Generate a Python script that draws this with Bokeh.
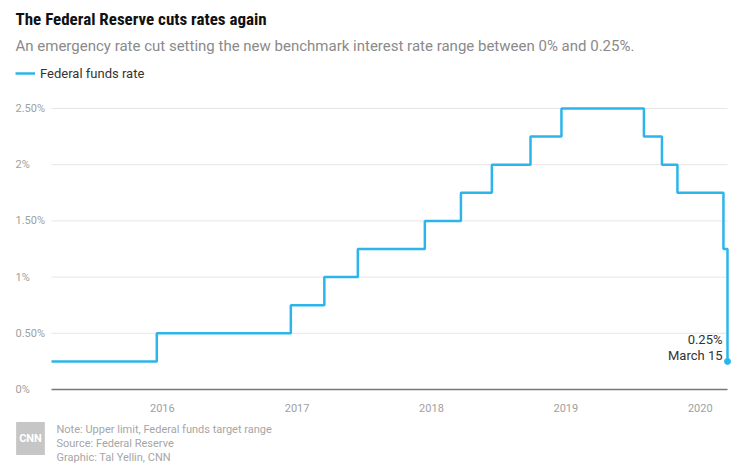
import pandas as pd
from bokeh.plotting import figure
from bokeh.models import (Range1d, Label, LabelSet, ColumnDataSource, Legend, LegendItem)
from bokeh.core.properties import value
from bokeh.embed import file_html
from bokeh.resources import INLINE

# ---- data ----
dates = ["2015-03-06", "2015-12-17", "2016-12-15", "2017-03-16", "2017-06-15",
         "2017-12-14", "2018-03-22", "2018-06-14", "2018-09-27", "2018-12-20",
         "2019-08-01", "2019-09-19", "2019-10-31", "2020-03-04", "2020-03-15"]
rates = [0.25, 0.50, 0.75, 1.00, 1.25, 1.50, 1.75, 2.00, 2.25, 2.50,
         2.25, 2.00, 1.75, 1.25, 0.25]
y_ticks = [0, 0.5, 1, 1.5, 2, 2.5]
y_tick_labels = ["0%", "0.50%", "1%", "1.50%", "2%", "2.50%"]
x_tick_dates = ["2016-01-01", "2017-01-01", "2018-01-01", "2019-01-01", "2020-01-01"]
x_tick_labels = ["2016", "2017", "2018", "2019", "2020"]

title_text = "The Federal Reserve cuts rates again"
subtitle_text = "An emergency rate cut setting the new benchmark interest rate range between 0% and 0.25%."
legend_text = "Federal funds rate"
end_value_text = "0.25%"
end_date_text = "March 15"
footer_lines = ["Note: Upper limit, Federal funds target range",
                "Source: Federal Reserve",
                "Graphic: Tal Yellin, CNN"]

BLUE = "#2cb5ea"
FONT = "Roboto"
COND = "'Roboto Condensed', 'Noto Sans Condensed', 'Open Sans Condensed', 'DejaVu Sans Condensed', Roboto"

W, H = 750, 474
# plot area in page pixels
L, R, T0, B0 = 51, 727, 108, 389   # left, right, y of top tick (2.5), y of 0

x = pd.to_datetime(dates)
d0, d1 = x[0], x[-1]
span = (d1 - d0)
x_start = d0 - span * (L / (R - L))
x_end = d1 + span * ((W - R) / (R - L))
ppu = (B0 - T0) / y_ticks[-1]        # pixels per percentage point
y_start = -(H - B0) / ppu
y_end = B0 / ppu

src = ColumnDataSource(dict(x=x, y=rates))

p = figure(width=W, height=H, output_backend="svg", toolbar_location=None,
           x_axis_type="datetime",
           x_range=Range1d(x_start, x_end), y_range=Range1d(y_start, y_end),
           min_border=0)
p.outline_line_color = None
p.background_fill_color = "white"
p.border_fill_color = "white"
p.axis.visible = False
p.grid.visible = False

# grid lines and baseline
gy = [t for t in y_ticks if t > 0]
p.segment(x0=[d0] * len(gy), x1=[d1] * len(gy), y0=gy, y1=gy,
          line_color="#e6e6e6", line_width=1)
p.segment(x0=[d0], x1=[d1], y0=[y_ticks[0]], y1=[y_ticks[0]],
          line_color="#777777", line_width=1.6)

line = p.step("x", "y", source=src, mode="after", line_color=BLUE, line_width=2.5)
p.scatter(x=[x[-1]], y=[rates[-1]], size=6, color=BLUE)

# y tick labels (left aligned)
ysrc = ColumnDataSource(dict(y=y_ticks, text=y_tick_labels))
p.add_layout(LabelSet(x=15, y="y", x_units="screen", text="text", source=ysrc,
                      text_baseline="middle", text_align="left", text_font=value(FONT),
                      text_font_size=value("11px"), text_color=value("#a0a0a0")))

# x tick labels
xsrc = ColumnDataSource(dict(x=pd.to_datetime(x_tick_dates), y=[y_ticks[0]] * len(x_tick_dates),
                             text=x_tick_labels))
p.add_layout(LabelSet(x="x", y="y", y_offset=-18, text="text", source=xsrc,
                      text_baseline="middle", text_align="center", text_font=value(FONT),
                      text_font_size=value("11px"), text_color=value("#a0a0a0")))

# end annotation
p.add_layout(Label(x=x[-1], y=rates[-1], x_offset=-5, y_offset=-2, text=end_date_text,
                   text_align="right", text_baseline="bottom", text_font=FONT,
                   text_font_size="13px", text_color="#333333"))
p.add_layout(Label(x=x[-1], y=rates[-1], x_offset=-5, y_offset=14, text=end_value_text,
                   text_align="right", text_baseline="bottom", text_font=FONT,
                   text_font_size="13px", text_color="#333333"))

# title / subtitle
p.add_layout(Label(x=15, y=H - 18, x_units="screen", y_units="screen", text=title_text,
                   text_baseline="middle", text_font=COND, text_font_style="bold",
                   text_font_size="17px", text_color="#111111"))
p.add_layout(Label(x=15, y=H - 45, x_units="screen", y_units="screen", text=subtitle_text,
                   text_baseline="middle", text_font=FONT,
                   text_font_size="15px", text_color="#8a8a8a"))

# legend
legend = Legend(items=[LegendItem(label=legend_text, renderers=[line])],
                location=(15, H - 81), orientation="horizontal",
                background_fill_alpha=0, border_line_color=None,
                glyph_width=20, glyph_height=16, label_text_font=FONT,
                label_text_font_size="13px", label_text_color="#333333",
                padding=0, margin=0, label_standoff=5, label_height=16)
p.add_layout(legend, "center")

# footer
p.add_layout(Label(x=30, y=H - 438, x_units="screen", y_units="screen", text="CNN",
                   text_baseline="middle", text_align="center", text_font=FONT,
                   text_font_style="bold", text_font_size="11px", text_color="white",
                   background_fill_color="#c6c6c6", padding=(3, 10)))
for i, t in enumerate(footer_lines):
    p.add_layout(Label(x=56, y=H - 429 - 14 * i, x_units="screen", y_units="screen", text=t,
                       text_baseline="middle", text_font=FONT,
                       text_font_size="11px", text_color="#a6a6a6"))

open("out.html", "w").write(file_html(p, INLINE))
